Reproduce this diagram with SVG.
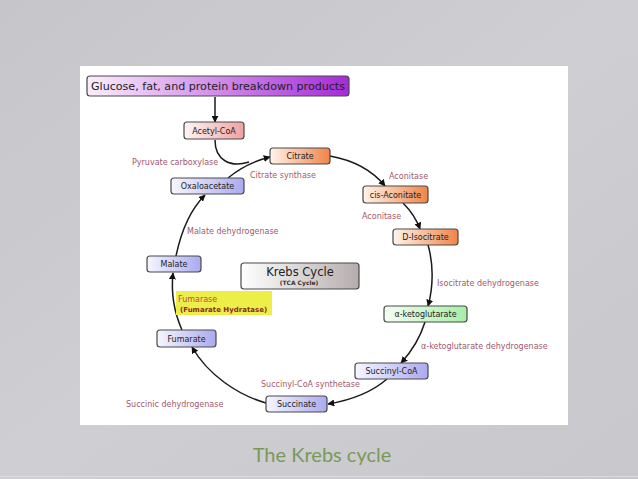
<svg xmlns="http://www.w3.org/2000/svg" width="638" height="479" viewBox="0 0 638 479">
<defs>
<linearGradient id="gPurple" x1="0" x2="1" y1="0" y2="0"><stop offset="0" stop-color="#fbeefb"/><stop offset="1" stop-color="#a52ad8"/></linearGradient>
<linearGradient id="gPink" x1="0" x2="1"><stop offset="0" stop-color="#fff4f4"/><stop offset="1" stop-color="#f0a2a2"/></linearGradient>
<linearGradient id="gOrange" x1="0" x2="1"><stop offset="0" stop-color="#fff4ea"/><stop offset="1" stop-color="#f08448"/></linearGradient>
<linearGradient id="gGreen" x1="0" x2="1"><stop offset="0" stop-color="#f4fff4"/><stop offset="1" stop-color="#a6eea6"/></linearGradient>
<linearGradient id="gBlue" x1="0" x2="1"><stop offset="0" stop-color="#f6f6ff"/><stop offset="1" stop-color="#aaaaf0"/></linearGradient>
<linearGradient id="gGray" x1="0" x2="1"><stop offset="0" stop-color="#ffffff"/><stop offset="1" stop-color="#b5adad"/></linearGradient>
<linearGradient id="gBg" x1="0" y1="0" x2="1" y2="1"><stop offset="0" stop-color="#c6c5ca"/><stop offset="0.5" stop-color="#cfced3"/><stop offset="1" stop-color="#c8c7cc"/></linearGradient>
<marker id="arr" viewBox="0 0 10 10" refX="9" refY="5" markerWidth="7" markerHeight="7" orient="auto" markerUnits="userSpaceOnUse"><path d="M0,0 L10,5 L0,10 z" fill="#111"/></marker>
</defs>
<style>
.box{stroke:#4a4a4a;stroke-width:1.2}
.nt{font-family:"DejaVu Sans",Verdana,sans-serif;font-size:8px;fill:#222;text-anchor:middle}
.lab{font-family:"DejaVu Sans",Verdana,sans-serif;font-size:8px;fill:#a3586c}
.con{fill:none;stroke:#1a1a1a;stroke-width:1.5}
</style>
<rect x="0" y="0" width="638" height="479" fill="url(#gBg)"/>
<line x1="0" y1="476.5" x2="638" y2="476.5" stroke="#dcdce0" stroke-width="1"/>
<rect x="80" y="66" width="488" height="359" fill="#ffffff"/>

<g id="connectors">
<path class="con" d="M215,97 L215,122" marker-end="url(#arr)"/>
<path class="con" d="M215,140 C215,160 230,168 249,162"/>
<path class="con" d="M228,178 C240,168 254,161 270,157" marker-end="url(#arr)"/>
<path class="con" d="M330,156 C352,160 372,170 385,186" marker-end="url(#arr)"/>
<path class="con" d="M403,203 C410,210 416,218 420,229" marker-end="url(#arr)"/>
<path class="con" d="M428,245 C433,262 434,285 428,306" marker-end="url(#arr)"/>
<path class="con" d="M425,322 C420,338 413,350 401,363" marker-end="url(#arr)"/>
<path class="con" d="M387,379 C372,392 352,400 328,404" marker-end="url(#arr)"/>
<path class="con" d="M266,403 C238,395 208,375 192,347" marker-end="url(#arr)"/>
<path class="con" d="M182,330 C174,312 171,292 173,273" marker-end="url(#arr)"/>
<path class="con" d="M176,256 C181,232 190,210 205,195" marker-end="url(#arr)"/>
</g>

<g id="n-source"><rect class="box" x="87" y="76" width="262" height="20" rx="3" fill="url(#gPurple)"/>
<text x="218" y="90" text-anchor="middle" font-family="DejaVu Sans, Verdana, sans-serif" font-size="10" fill="#222" textLength="254" lengthAdjust="spacingAndGlyphs">Glucose, fat, and protein breakdown products</text></g>
<g id="n-acetyl"><rect class="box" x="184" y="122" width="60" height="17" rx="3" fill="url(#gPink)"/><text class="nt" x="214" y="133.5">Acetyl-CoA</text></g>
<g id="n-citrate"><rect class="box" x="270" y="148" width="60" height="16" rx="3" fill="url(#gOrange)"/><text class="nt" x="300" y="159">Citrate</text></g>
<g id="n-cis"><rect class="box" x="363" y="186" width="65" height="17" rx="3" fill="url(#gOrange)"/><text class="nt" x="395.5" y="197.5">cis-Aconitate</text></g>
<g id="n-iso"><rect class="box" x="393" y="229" width="65" height="16" rx="3" fill="url(#gOrange)"/><text class="nt" x="425.5" y="240">D-Isocitrate</text></g>
<g id="n-akg"><rect class="box" x="384" y="306" width="83" height="16" rx="3" fill="url(#gGreen)"/><text class="nt" x="425.5" y="317">α-ketoglutarate</text></g>
<g id="n-succoa"><rect class="box" x="355" y="363" width="73" height="16" rx="3" fill="url(#gBlue)"/><text class="nt" x="391.5" y="374">Succinyl-CoA</text></g>
<g id="n-succinate"><rect class="box" x="266" y="396" width="61" height="16" rx="3" fill="url(#gBlue)"/><text class="nt" x="296.5" y="407">Succinate</text></g>
<g id="n-fumarate"><rect class="box" x="157" y="330" width="59" height="17" rx="3" fill="url(#gBlue)"/><text class="nt" x="186.5" y="341.5">Fumarate</text></g>
<g id="n-malate"><rect class="box" x="147" y="256" width="54" height="16" rx="3" fill="url(#gBlue)"/><text class="nt" x="174" y="267">Malate</text></g>
<g id="n-oxalo"><rect class="box" x="171" y="178" width="73" height="16" rx="3" fill="url(#gBlue)"/><text class="nt" x="207.5" y="189">Oxaloacetate</text></g>

<g id="n-krebs"><rect class="box" x="241" y="263" width="118" height="26" rx="3" fill="url(#gGray)"/>
<text x="300" y="276" text-anchor="middle" font-family="DejaVu Sans, Verdana, sans-serif" font-size="11.5" fill="#222">Krebs Cycle</text>
<text x="299" y="284.5" text-anchor="middle" font-family="DejaVu Sans, Verdana, sans-serif" font-size="6" font-weight="bold" fill="#333">(TCA Cycle)</text></g>

<g id="n-fumarase"><rect x="176" y="291" width="96" height="24" fill="#eeee48"/>
<text x="178" y="302" font-family="DejaVu Sans, Verdana, sans-serif" font-size="8" fill="#c04a5a">Fumarase</text>
<text x="180" y="311.5" font-family="DejaVu Sans, Verdana, sans-serif" font-size="7" font-weight="bold" fill="#8a2a2a">(Fumarate Hydratase)</text></g>

<g id="labels">
<text class="lab" x="132" y="165">Pyruvate carboxylase</text>
<text class="lab" x="250" y="178">Citrate synthase</text>
<text class="lab" x="389" y="179">Aconitase</text>
<text class="lab" x="362" y="219">Aconitase</text>
<text class="lab" x="187" y="234">Malate dehydrogenase</text>
<text class="lab" x="437" y="286">Isocitrate dehydrogenase</text>
<text class="lab" x="421" y="349">α-ketoglutarate dehydrogenase</text>
<text class="lab" x="261" y="387">Succinyl-CoA synthetase</text>
<text class="lab" x="126" y="407">Succinic dehydrogenase</text>
</g>

<text x="322" y="462" text-anchor="middle" font-family="Lato, 'Open Sans', sans-serif" font-size="20" fill="#789a58">The Krebs cycle</text>
</svg>
